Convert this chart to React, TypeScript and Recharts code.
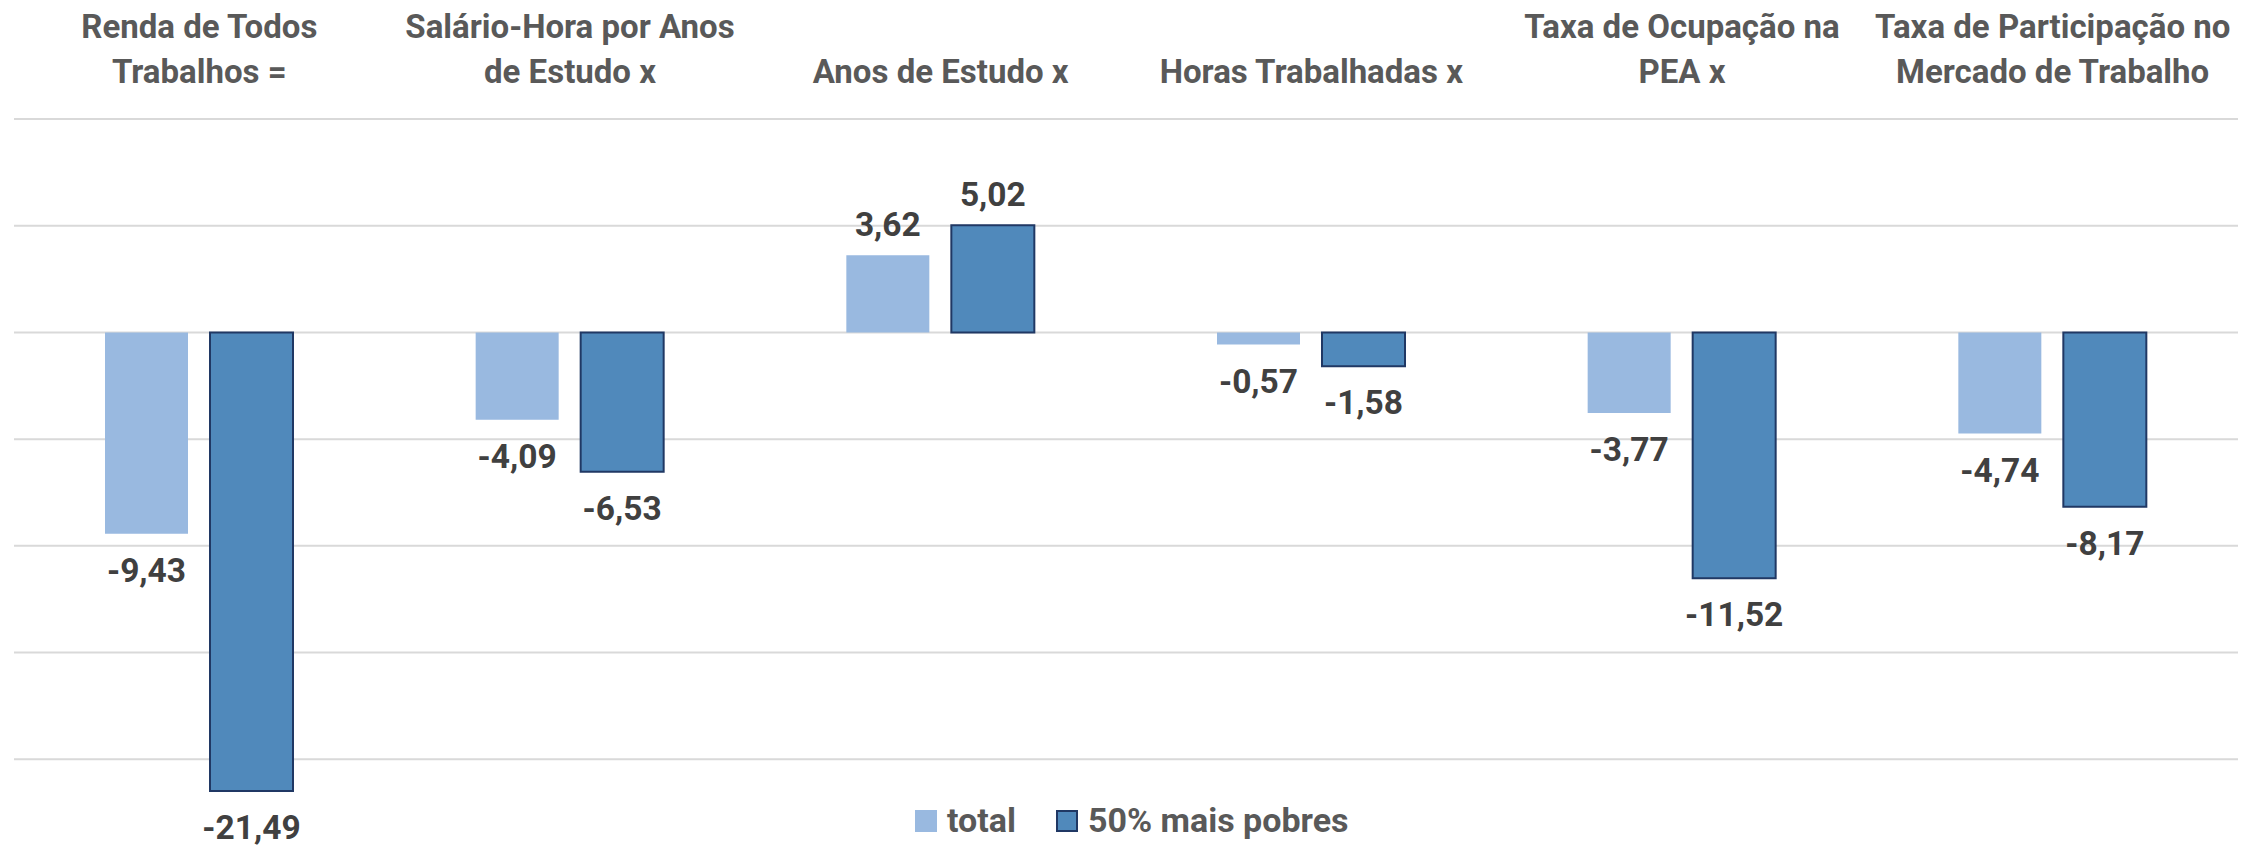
import React from 'react';
import { BarChart, Bar, XAxis, YAxis, CartesianGrid, LabelList, Legend } from 'recharts';

const categories = [
  'Renda de Todos Trabalhos =',
  'Salário-Hora por Anos de Estudo x',
  'Anos de Estudo x',
  'Horas Trabalhadas x',
  'Taxa de Ocupação na PEA x',
  'Taxa de Participação no Mercado de Trabalho',
];
const categoryLines = [
  ['Renda de Todos', 'Trabalhos ='],
  ['Salário-Hora por Anos', 'de Estudo x'],
  ['Anos de Estudo x'],
  ['Horas Trabalhadas x'],
  ['Taxa de Ocupação na', 'PEA x'],
  ['Taxa de Participação no', 'Mercado de Trabalho'],
];
const totalValues = [-9.43, -4.09, 3.62, -0.57, -3.77, -4.74];
const pobresValues = [-21.49, -6.53, 5.02, -1.58, -11.52, -8.17];
const yTicks = [10, 5, 0, -5, -10, -15, -20, -25];
const seriesNames = ['total', '50% mais pobres'];

const data = categories.map((c, i) => ({
  name: c,
  total: totalValues[i],
  pobres: pobresValues[i],
}));

const FONT = "Roboto, 'Noto Sans', sans-serif";
const LIGHT = '#99B9E0';
const DARK = '#5089BB';
const DARK_STROKE = '#203864';

const CategoryTick = (props: any) => {
  const { x, y, payload } = props;
  const lines = categoryLines[payload.index] || [String(payload.value)];
  const baselines = lines.length === 2 ? [y - 81.5, y - 36.5] : [y - 36.5];
  return (
    <text textAnchor="middle" fill="#595959" fontFamily={FONT} fontWeight="bold" fontSize={33}>
      {lines.map((l, i) => (
        <tspan key={i} x={x} y={baselines[i]}>{l}</tspan>
      ))}
    </text>
  );
};

const renderValueLabel = (props: any) => {
  const { x, y, width, height, value } = props;
  const top = Math.min(y, y + height);
  const bottom = Math.max(y, y + height);
  const cx = x + width / 2;
  const ty = value >= 0 ? top - 19 : bottom + 48;
  const txt = Number(value).toFixed(2).replace('.', ',');
  return (
    <text x={cx} y={ty} textAnchor="middle" fill="#404040" fontFamily={FONT} fontWeight="bold" fontSize={33.5}>
      {txt}
    </text>
  );
};

const LegendContent = () => (
  <div style={{ display: 'flex', alignItems: 'center', fontFamily: FONT, fontWeight: 'bold', fontSize: 34, lineHeight: '35px', color: '#595959', whiteSpace: 'nowrap' }}>
    <div style={{ width: 22, height: 22, minWidth: 22, flexShrink: 0, background: LIGHT, marginRight: 10 }} />
    <span style={{ marginRight: 40 }}>{seriesNames[0]}</span>
    <div style={{ width: 22, height: 22, minWidth: 22, flexShrink: 0, background: DARK, border: `2px solid ${DARK_STROKE}`, boxSizing: 'border-box', marginRight: 10 }} />
    <span>{seriesNames[1]}</span>
  </div>
);

export default function App() {
  return (
    <div style={{ position: 'absolute', left: 0, top: 0, width: 2267, height: 861, background: '#fff', overflow: 'hidden' }}>
      <BarChart
        width={2267}
        height={861}
        data={data}
        margin={{ top: 0, right: 29, bottom: -5, left: 14 }}
        barSize={83}
        barGap={22}
      >
        <CartesianGrid vertical={false} stroke="#D9D9D9" strokeWidth={2} />
        <XAxis
          dataKey="name"
          orientation="top"
          height={119}
          axisLine={false}
          tickLine={false}
          tickSize={0}
          tickMargin={0}
          interval={0}
          tick={<CategoryTick />}
        />
        <YAxis hide domain={[-25, 10]} ticks={yTicks} interval={0} />
        <Legend
          layout="horizontal"
          verticalAlign="middle"
          align="center"
          content={<LegendContent />}
          wrapperStyle={{ left: 915, top: 803, width: 500, height: 35 }}
        />
        <Bar dataKey="total" name={seriesNames[0]} fill={LIGHT} isAnimationActive={false}>
          <LabelList dataKey="total" content={renderValueLabel} />
        </Bar>
        <Bar dataKey="pobres" name={seriesNames[1]} fill={DARK} stroke={DARK_STROKE} strokeWidth={2} isAnimationActive={false}>
          <LabelList dataKey="pobres" content={renderValueLabel} />
        </Bar>
      </BarChart>
    </div>
  );
}
